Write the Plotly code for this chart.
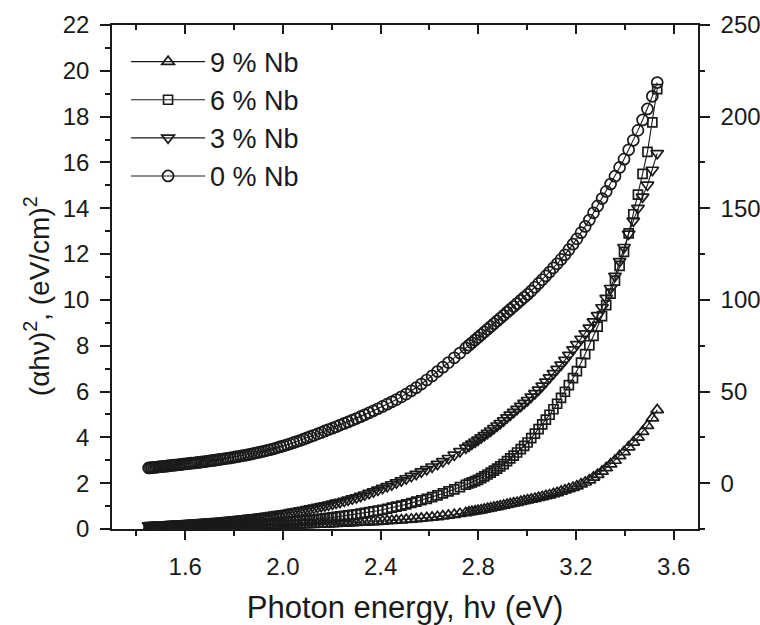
import plotly.graph_objects as go

# Photon energy grid (eV)
energy = [
    1.450, 1.457, 1.464, 1.471, 1.478, 1.485, 1.492, 1.499, 1.507, 1.514,
    1.522, 1.529, 1.537, 1.544, 1.552, 1.560, 1.568, 1.576, 1.584, 1.592,
    1.600, 1.608, 1.617, 1.625, 1.634, 1.642, 1.651, 1.660, 1.669, 1.678,
    1.687, 1.696, 1.706, 1.715, 1.725, 1.734, 1.744, 1.754, 1.764, 1.774,
    1.784, 1.795, 1.805, 1.816, 1.826, 1.837, 1.848, 1.859, 1.870, 1.882,
    1.893, 1.905, 1.917, 1.929, 1.941, 1.953, 1.965, 1.978, 1.990, 2.003,
    2.016, 2.030, 2.043, 2.056, 2.070, 2.084, 2.098, 2.112, 2.127, 2.142,
    2.157, 2.172, 2.187, 2.203, 2.218, 2.234, 2.251, 2.267, 2.284, 2.301,
    2.318, 2.335, 2.353, 2.371, 2.389, 2.408, 2.427, 2.446, 2.465, 2.485,
    2.505, 2.526, 2.546, 2.567, 2.589, 2.611, 2.633, 2.655, 2.678, 2.702,
    2.725, 2.749, 2.762, 2.774, 2.787, 2.799, 2.812, 2.825, 2.838, 2.851,
    2.864, 2.877, 2.890, 2.904, 2.918, 2.931, 2.945, 2.959, 2.974, 2.988,
    3.002, 3.017, 3.032, 3.047, 3.062, 3.077, 3.092, 3.108, 3.123, 3.139,
    3.155, 3.171, 3.188, 3.204, 3.221, 3.238, 3.255, 3.272, 3.289, 3.307,
    3.324, 3.342, 3.360, 3.379, 3.397, 3.416, 3.435, 3.454, 3.473, 3.493,
    3.513, 3.533,
]

# 0 % Nb, right axis
nb0 = [
    8.3, 8.4, 8.5, 8.6, 8.7, 8.8, 8.9, 9.0, 9.1, 9.2,
    9.3, 9.4, 9.6, 9.7, 9.8, 9.9, 10.0, 10.1, 10.3, 10.4,
    10.5, 10.6, 10.8, 10.9, 11.0, 11.1, 11.3, 11.4, 11.6, 11.7,
    11.9, 12.1, 12.3, 12.4, 12.6, 12.8, 13.0, 13.2, 13.4, 13.6,
    13.8, 14.0, 14.3, 14.5, 14.8, 15.1, 15.3, 15.6, 15.9, 16.3,
    16.6, 16.9, 17.3, 17.7, 18.1, 18.5, 18.9, 19.4, 19.9, 20.4,
    20.9, 21.5, 22.1, 22.7, 23.3, 24.0, 24.7, 25.4, 26.1, 26.9,
    27.6, 28.5, 29.3, 30.0, 30.8, 31.7, 32.6, 33.4, 34.4, 35.3,
    36.3, 37.3, 38.4, 39.5, 40.6, 41.9, 43.1, 44.4, 45.6, 47.1,
    48.6, 50.4, 52.1, 54.1, 56.3, 58.5, 60.9, 63.3, 65.8, 68.4,
    71.0, 73.8, 75.3, 76.6, 78.1, 79.5, 81.0, 82.5, 84.0, 85.5,
    87.0, 88.5, 90.0, 91.6, 93.3, 94.8, 96.4, 98.0, 99.8, 101.4,
    103.0, 104.8, 106.9, 109.0, 111.0, 113.1, 115.2, 117.5, 119.7, 122.1,
    124.6, 127.4, 130.4, 133.3, 136.7, 140.1, 143.6, 147.5, 151.3, 155.3,
    159.2, 163.2, 167.5, 172.3, 176.8, 181.9, 187.1, 192.5, 198.2, 204.2,
    211.1, 218.6,
]

# 3 % Nb, left axis
nb3 = [
    0.15, 0.154, 0.158, 0.163, 0.167, 0.171, 0.175, 0.179, 0.184, 0.188,
    0.193, 0.197, 0.202, 0.206, 0.211, 0.216, 0.221, 0.226, 0.23, 0.235,
    0.24, 0.245, 0.25, 0.255, 0.26, 0.265, 0.271, 0.278, 0.285, 0.292,
    0.3, 0.307, 0.315, 0.322, 0.33, 0.337, 0.345, 0.354, 0.365, 0.374,
    0.384, 0.395, 0.406, 0.419, 0.431, 0.444, 0.458, 0.471, 0.484, 0.498,
    0.512, 0.527, 0.544, 0.561, 0.577, 0.595, 0.614, 0.635, 0.654, 0.675,
    0.699, 0.724, 0.747, 0.772, 0.8, 0.828, 0.856, 0.886, 0.919, 0.952,
    0.987, 1.023, 1.059, 1.098, 1.137, 1.178, 1.223, 1.271, 1.322, 1.374,
    1.435, 1.496, 1.562, 1.634, 1.706, 1.784, 1.863, 1.943, 2.026, 2.114,
    2.204, 2.305, 2.4, 2.502, 2.607, 2.717, 2.832, 2.95, 3.088, 3.233,
    3.385, 3.543, 3.634, 3.718, 3.809, 3.893, 3.991, 4.09, 4.189, 4.288,
    4.398, 4.507, 4.616, 4.736, 4.862, 4.979, 5.105, 5.231, 5.366, 5.492,
    5.62, 5.77, 5.92, 6.07, 6.244, 6.424, 6.604, 6.796, 6.976, 7.168,
    7.37, 7.594, 7.832, 8.056, 8.294, 8.532, 8.78, 9.052, 9.324, 9.668,
    10.076, 10.508, 11.04, 11.686, 12.298, 12.88, 13.45, 14.004, 14.498, 15.018,
    15.67, 16.4,
]

# 6 % Nb, left axis
nb6 = [
    0.04, 0.041, 0.043, 0.044, 0.046, 0.047, 0.048, 0.05, 0.052, 0.054,
    0.057, 0.059, 0.061, 0.063, 0.066, 0.068, 0.07, 0.073, 0.075, 0.078,
    0.08, 0.082, 0.085, 0.088, 0.09, 0.093, 0.095, 0.098, 0.101, 0.103,
    0.106, 0.109, 0.112, 0.116, 0.12, 0.124, 0.128, 0.132, 0.136, 0.14,
    0.144, 0.148, 0.153, 0.16, 0.166, 0.172, 0.179, 0.185, 0.192, 0.199,
    0.206, 0.214, 0.224, 0.233, 0.243, 0.252, 0.262, 0.272, 0.282, 0.293,
    0.304, 0.317, 0.329, 0.34, 0.353, 0.366, 0.378, 0.394, 0.412, 0.43,
    0.448, 0.466, 0.484, 0.504, 0.525, 0.548, 0.571, 0.594, 0.618, 0.642,
    0.672, 0.703, 0.735, 0.768, 0.8, 0.839, 0.885, 0.93, 0.976, 1.024,
    1.075, 1.135, 1.193, 1.254, 1.318, 1.391, 1.472, 1.554, 1.639, 1.729,
    1.828, 1.931, 1.987, 2.038, 2.094, 2.146, 2.222, 2.3, 2.378, 2.457,
    2.548, 2.639, 2.73, 2.836, 2.962, 3.079, 3.205, 3.34, 3.49, 3.63,
    3.776, 3.971, 4.166, 4.361, 4.568, 4.778, 4.988, 5.228, 5.468, 5.724,
    5.99, 6.278, 6.584, 6.888, 7.262, 7.636, 8.02, 8.428, 8.836, 9.296,
    9.772, 10.276, 10.84, 11.486, 12.098, 12.904, 13.74, 14.592, 15.504, 16.464,
    17.75, 19.2,
]

# 9 % Nb, left axis
nb9 = [
    0.02, 0.021, 0.022, 0.023, 0.024, 0.025, 0.026, 0.027, 0.028, 0.029,
    0.03, 0.031, 0.032, 0.033, 0.034, 0.035, 0.036, 0.037, 0.038, 0.039,
    0.04, 0.042, 0.043, 0.045, 0.047, 0.048, 0.05, 0.052, 0.054, 0.056,
    0.057, 0.059, 0.061, 0.063, 0.065, 0.067, 0.069, 0.071, 0.073, 0.075,
    0.077, 0.079, 0.082, 0.085, 0.088, 0.091, 0.094, 0.098, 0.101, 0.105,
    0.108, 0.112, 0.115, 0.119, 0.122, 0.126, 0.13, 0.133, 0.137, 0.141,
    0.146, 0.152, 0.157, 0.162, 0.168, 0.174, 0.179, 0.185, 0.191, 0.197,
    0.203, 0.209, 0.215, 0.222, 0.23, 0.239, 0.248, 0.257, 0.266, 0.276,
    0.285, 0.294, 0.304, 0.314, 0.324, 0.336, 0.349, 0.362, 0.376, 0.39,
    0.405, 0.423, 0.441, 0.46, 0.48, 0.504, 0.533, 0.562, 0.591, 0.624,
    0.665, 0.708, 0.732, 0.753, 0.777, 0.798, 0.826, 0.855, 0.884, 0.912,
    0.941, 0.969, 0.998, 1.029, 1.061, 1.091, 1.124, 1.154, 1.19, 1.222,
    1.255, 1.293, 1.33, 1.368, 1.405, 1.443, 1.48, 1.528, 1.581, 1.637,
    1.693, 1.749, 1.808, 1.87, 1.955, 2.04, 2.135, 2.254, 2.373, 2.513,
    2.666, 2.828, 2.99, 3.19, 3.37, 3.576, 3.785, 4.002, 4.249, 4.509,
    4.84, 5.2,
]

series_names = ["9 % Nb", "6 % Nb", "3 % Nb", "0 % Nb"]
x_title = "Photon energy, h\u03bd (eV)"
y_title = "(\u03b1h\u03bd)<sup>2</sup>, (eV/cm)<sup>2</sup>"

FONT = "Liberation Sans, Arial, sans-serif"
INK = "#1a1a1a"

fig = go.Figure()

def add(name, y, symbol, size, xa="x", ya="y"):
    fig.add_trace(go.Scatter(
        x=energy, y=y, name=name, mode="lines+markers",
        xaxis=xa, yaxis=ya, legendgroup=name,
        line=dict(color=INK, width=1.1),
        marker=dict(symbol=symbol, size=size, color=INK,
                    line=dict(color=INK, width=1.7)),
    ))

add(series_names[0], nb9, "triangle-up-open", 11)
add(series_names[1], nb6, "square-open", 9)
add(series_names[2], nb3, "triangle-down-open", 11)
add(series_names[3], nb0, "circle-open", 11, xa="x2", ya="y2")

axis_common = dict(showgrid=False, zeroline=False, showline=True,
                   linecolor=INK, linewidth=1.5, tickcolor=INK, tickwidth=1.5,
                   automargin=False)

fig.update_layout(
    width=760, height=625,
    margin=dict(l=112, r=62, t=25, b=96),
    paper_bgcolor="white", plot_bgcolor="white",
    font=dict(family=FONT, color=INK, size=24),
    showlegend=True,
    legend=dict(x=0.024, y=0.975, xanchor="left", yanchor="top",
                bgcolor="rgba(0,0,0,0)", font=dict(size=27, family=FONT),
                itemwidth=74, tracegroupgap=0, traceorder="grouped"),
    xaxis=dict(range=[1.3, 3.7], tickmode="linear", tick0=1.6, dtick=0.4,
               tickformat=".1f", ticks="outside", ticklen=9,
               minor=dict(dtick=0.2, ticklen=5, ticks="outside",
                          tickcolor=INK, tickwidth=1.5),
               tickfont=dict(size=24), ticklabelstandoff=6,
               title=dict(text=x_title, font=dict(size=31), standoff=18),
               **axis_common),
    xaxis2=dict(range=[1.3, 3.7], overlaying="x", side="top", anchor="y",
                tickmode="linear", tick0=1.6, dtick=0.4, ticks="inside",
                ticklen=9, showticklabels=False,
                minor=dict(dtick=0.2, ticklen=5, ticks="inside",
                           tickcolor=INK, tickwidth=1.5),
                **axis_common),
    yaxis=dict(range=[0, 22], tickmode="linear", tick0=0, dtick=2,
               ticks="outside", ticklen=10,
               minor=dict(dtick=1, ticklen=5, ticks="outside",
                          tickcolor=INK, tickwidth=1.5),
               tickfont=dict(size=24), ticklabelstandoff=6,
               **axis_common),
    yaxis2=dict(range=[-25, 250], overlaying="y", side="right", anchor="x",
                tickmode="linear", tick0=0, dtick=50,
                ticks="outside", ticklen=10,
                minor=dict(dtick=25, ticklen=5, ticks="outside",
                           tickcolor=INK, tickwidth=1.5),
                tickfont=dict(size=24), ticklabelstandoff=6,
                **axis_common),
    annotations=[dict(text=y_title, textangle=-90, showarrow=False,
                      xref="paper", yref="paper", x=-0.128, y=0.462,
                      xanchor="center", yanchor="middle",
                      font=dict(size=28, family=FONT, color=INK))],
)

fig.write_html("out.html")
